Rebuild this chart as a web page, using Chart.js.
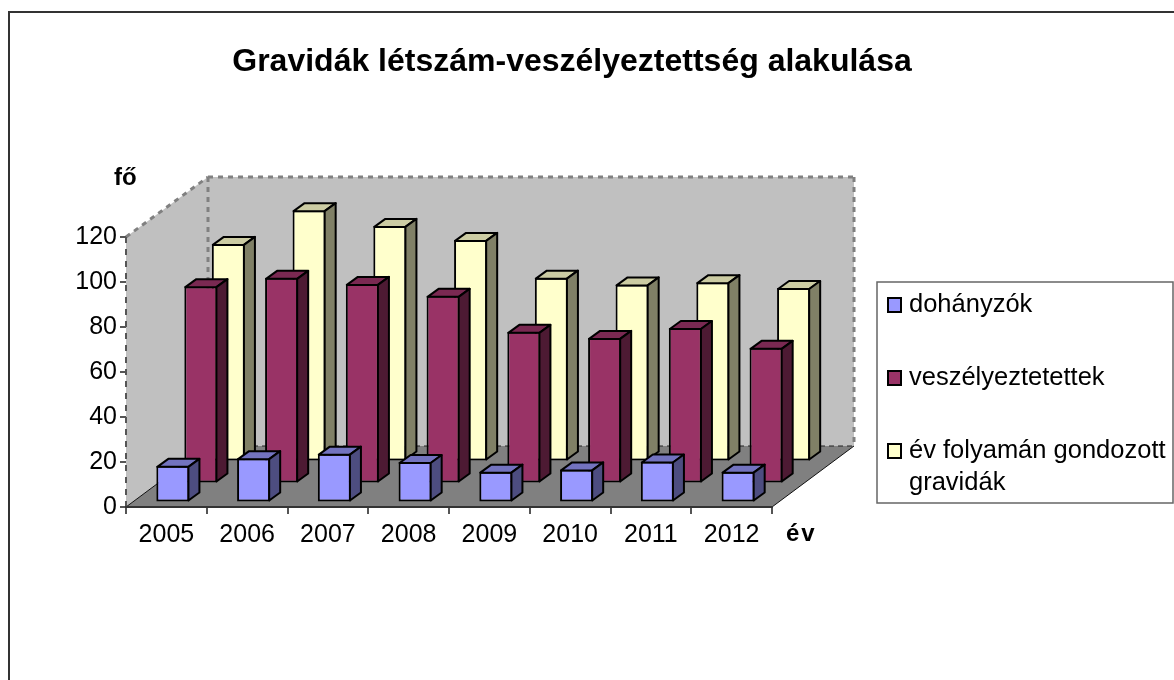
<!DOCTYPE html>
<html lang="hu">
<head>
<meta charset="utf-8">
<title>Gravidák létszám-veszélyeztettség alakulása</title>
<script src="https://cdn.jsdelivr.net/npm/chart.js@4"></script>
<style>
  html, body { margin: 0; padding: 0; background: #fff; overflow: hidden; }
  canvas { display: block; }
</style>
</head>
<body>
<canvas id="gravidaChart" width="1174" height="680"></canvas>
<script>
const years = ['2005', '2006', '2007', '2008', '2009', '2010', '2011', '2012'];
const dohanyzok = [16.3, 19.7, 21.7, 18, 13.7, 14.7, 18.2, 13.7];
const veszelyeztetettek = [87.7, 91.4, 88.7, 83.4, 67.4, 64.7, 69.1, 60.3];
const gondozott = [96.7, 111.7, 104.7, 98.5, 81.7, 78.7, 79.7, 77.1];
const seriesNames = ['dohányzók', 'veszélyeztetettek', 'év folyamán gondozott gravidák'];
const legendLines = [['dohányzók'], ['veszélyeztetettek'], ['év folyamán gondozott', 'gravidák']];
const yTicks = [0, 20, 40, 60, 80, 100, 120];

const FONT = '"Liberation Sans", Arial, sans-serif';

// how far the whole floor runs back, and where each row of bars sits on it
const DEPTH_X = 82, DEPTH_Y = 61;
const ROW_OFFSET = [[6.5, 4.5], [34.5, 23.5], [62, 45.5]];
// depth of one bar
const BAR_DX = 11, BAR_DY = 8;

const FRONT = ['#9999ff', '#993366', '#ffffcc'];
const TOP = ['#7373bf', '#7a2952', '#cccca3'];
const SIDE = ['#4d4d80', '#4d1a33', '#808066'];

function poly(ctx, pts, fill, stroke, width) {
    ctx.beginPath();
    pts.forEach((p, i) => i ? ctx.lineTo(p[0], p[1]) : ctx.moveTo(p[0], p[1]));
    ctx.closePath();
    if (fill) { ctx.fillStyle = fill; ctx.fill(); }
    if (stroke) { ctx.strokeStyle = stroke; ctx.lineWidth = width; ctx.stroke(); }
}

function line(ctx, x1, y1, x2, y2, color, width, dash) {
    ctx.beginPath();
    ctx.setLineDash(dash || []);
    ctx.moveTo(x1, y1);
    ctx.lineTo(x2, y2);
    ctx.strokeStyle = color;
    ctx.lineWidth = width;
    ctx.stroke();
    ctx.setLineDash([]);
}

// walls and floor behind the axes, side and top faces on each bar, frame and legend
const scene3d = {
    id: 'scene3d',
    afterLayout(chart) {
        // the plot leaves room for the legend, the title still centres on nearly the full width
        chart.titleBlock.left = 0;
        chart.titleBlock.right = 1144;
    },
    beforeDraw(chart) {
        const ctx = chart.ctx;
        const a = chart.chartArea;
        ctx.save();
        ctx.fillStyle = '#fff';
        ctx.fillRect(0, 0, chart.width, chart.height);
        line(ctx, 9, 680, 9, 12, '#333', 2);
        line(ctx, 8, 12, 1174, 12, '#333', 2);

        const bl = a.left + DEPTH_X, br = a.right + DEPTH_X;
        const bt = a.top - DEPTH_Y + 1, bb = a.bottom - DEPTH_Y;
        poly(ctx, [[a.left, a.top], [bl, bt], [bl, bb], [a.left, a.bottom]], '#c0c0c0');
        poly(ctx, [[bl, bt], [br, bt], [br, bb], [bl, bb]], '#c0c0c0');
        poly(ctx, [[a.left, a.bottom], [a.right, a.bottom], [br, bb], [bl, bb]], '#808080');

        const dots = [5, 5];
        line(ctx, a.left, a.top, bl, bt, '#808080', 3, dots);
        line(ctx, bl, bt, br, bt, '#808080', 3, dots);
        line(ctx, bl, bt, bl, bb, '#808080', 3, dots);
        line(ctx, br, bt, br, bb, '#808080', 3, dots);
        line(ctx, bl, bb, br, bb, '#222', 1, [5, 4]);
        line(ctx, a.left, a.bottom, bl, bb, '#111', 1);
        line(ctx, a.right, a.bottom, br, bb, '#111', 1);
        line(ctx, a.left, a.bottom, a.left, a.top, '#555', 2, [6, 6]);
        ctx.restore();
    },
    beforeDatasetDraw(chart, args) {
        const off = ROW_OFFSET[args.index];
        chart.ctx.save();
        chart.ctx.translate(off[0], -off[1]);
    },
    afterDatasetDraw(chart, args) {
        const ctx = chart.ctx;
        const i = args.index;
        ctx.lineJoin = 'round';
        args.meta.data.forEach(bar => {
            const l = bar.x - bar.width / 2 + 1, r = bar.x + bar.width / 2 - 1;
            const t = bar.y + 1, b = bar.base - 1;
            poly(ctx, [[l, t], [r, t], [r + BAR_DX, t - BAR_DY], [l + BAR_DX, t - BAR_DY]], TOP[i], '#000', 2);
            poly(ctx, [[r, t], [r + BAR_DX, t - BAR_DY], [r + BAR_DX, b - BAR_DY], [r, b]], SIDE[i], '#000', 2);
        });
        ctx.restore();
    },
    afterDraw(chart) {
        const ctx = chart.ctx;
        ctx.save();
        ctx.textBaseline = 'middle';
        ctx.fillStyle = '#000';
        ctx.font = 'bold 24px ' + FONT;
        ctx.fillText('fő', 114, 178);
        ctx.letterSpacing = '2px';
        ctx.fillText('év', 786, 534);
        ctx.letterSpacing = '0px';

        poly(ctx, [[877, 282], [1173, 282], [1173, 503], [877, 503]], '#fff', '#666', 1.5);
        const rowY = [305, 378, 451];
        ctx.font = '25.5px ' + FONT;
        legendLines.forEach((rows, i) => {
            ctx.fillStyle = FRONT[i];
            ctx.strokeStyle = '#000';
            ctx.lineWidth = 2;
            ctx.fillRect(888, rowY[i] - 7, 13, 14);
            ctx.strokeRect(888, rowY[i] - 7, 13, 14);
            ctx.fillStyle = '#000';
            rows.forEach((text, k) => ctx.fillText(text, 909, rowY[i] + k * 32));
        });
        ctx.restore();
    }
};

function makeSeries(index, values) {
    return {
        label: seriesNames[index],
        data: values,
        backgroundColor: FRONT[index],
        borderColor: '#000',
        borderWidth: 2,
        borderSkipped: false,
        clip: false
    };
}

new Chart(document.getElementById('gravidaChart').getContext('2d'), {
    type: 'bar',
    data: {
        labels: years,
        datasets: [makeSeries(0, dohanyzok), makeSeries(1, veszelyeztetettek), makeSeries(2, gondozott)]
    },
    options: {
        responsive: false,
        animation: false,
        grouped: false,
        barPercentage: 0.41,
        categoryPercentage: 1,
        layout: { padding: { right: 402 } },
        plugins: {
            legend: { display: false },
            tooltip: { enabled: false },
            title: {
                display: true,
                text: 'Gravidák létszám-veszélyeztettség alakulása',
                color: '#000',
                font: { family: FONT, size: 32, weight: 'bold', lineHeight: 1.2 },
                padding: { top: 43, bottom: 155.6 }
            }
        },
        scales: {
            x: {
                afterFit(scale) { scale.height = 173; },
                border: { color: '#333', width: 2 },
                grid: { drawOnChartArea: false, color: '#555', lineWidth: 2, tickLength: 7 },
                ticks: { color: '#000', padding: 6, maxRotation: 0, font: { family: FONT, size: 25 } }
            },
            y: {
                min: 0,
                max: 120,
                afterFit(scale) { scale.width = 126; },
                afterBuildTicks(scale) { scale.ticks = yTicks.map(v => ({ value: v })); },
                border: { display: false },
                grid: { drawOnChartArea: false, color: '#555', lineWidth: 2, tickLength: 6 },
                ticks: { color: '#000', padding: 3, font: { family: FONT, size: 25 } }
            }
        }
    },
    plugins: [scene3d]
});
</script>
</body>
</html>
